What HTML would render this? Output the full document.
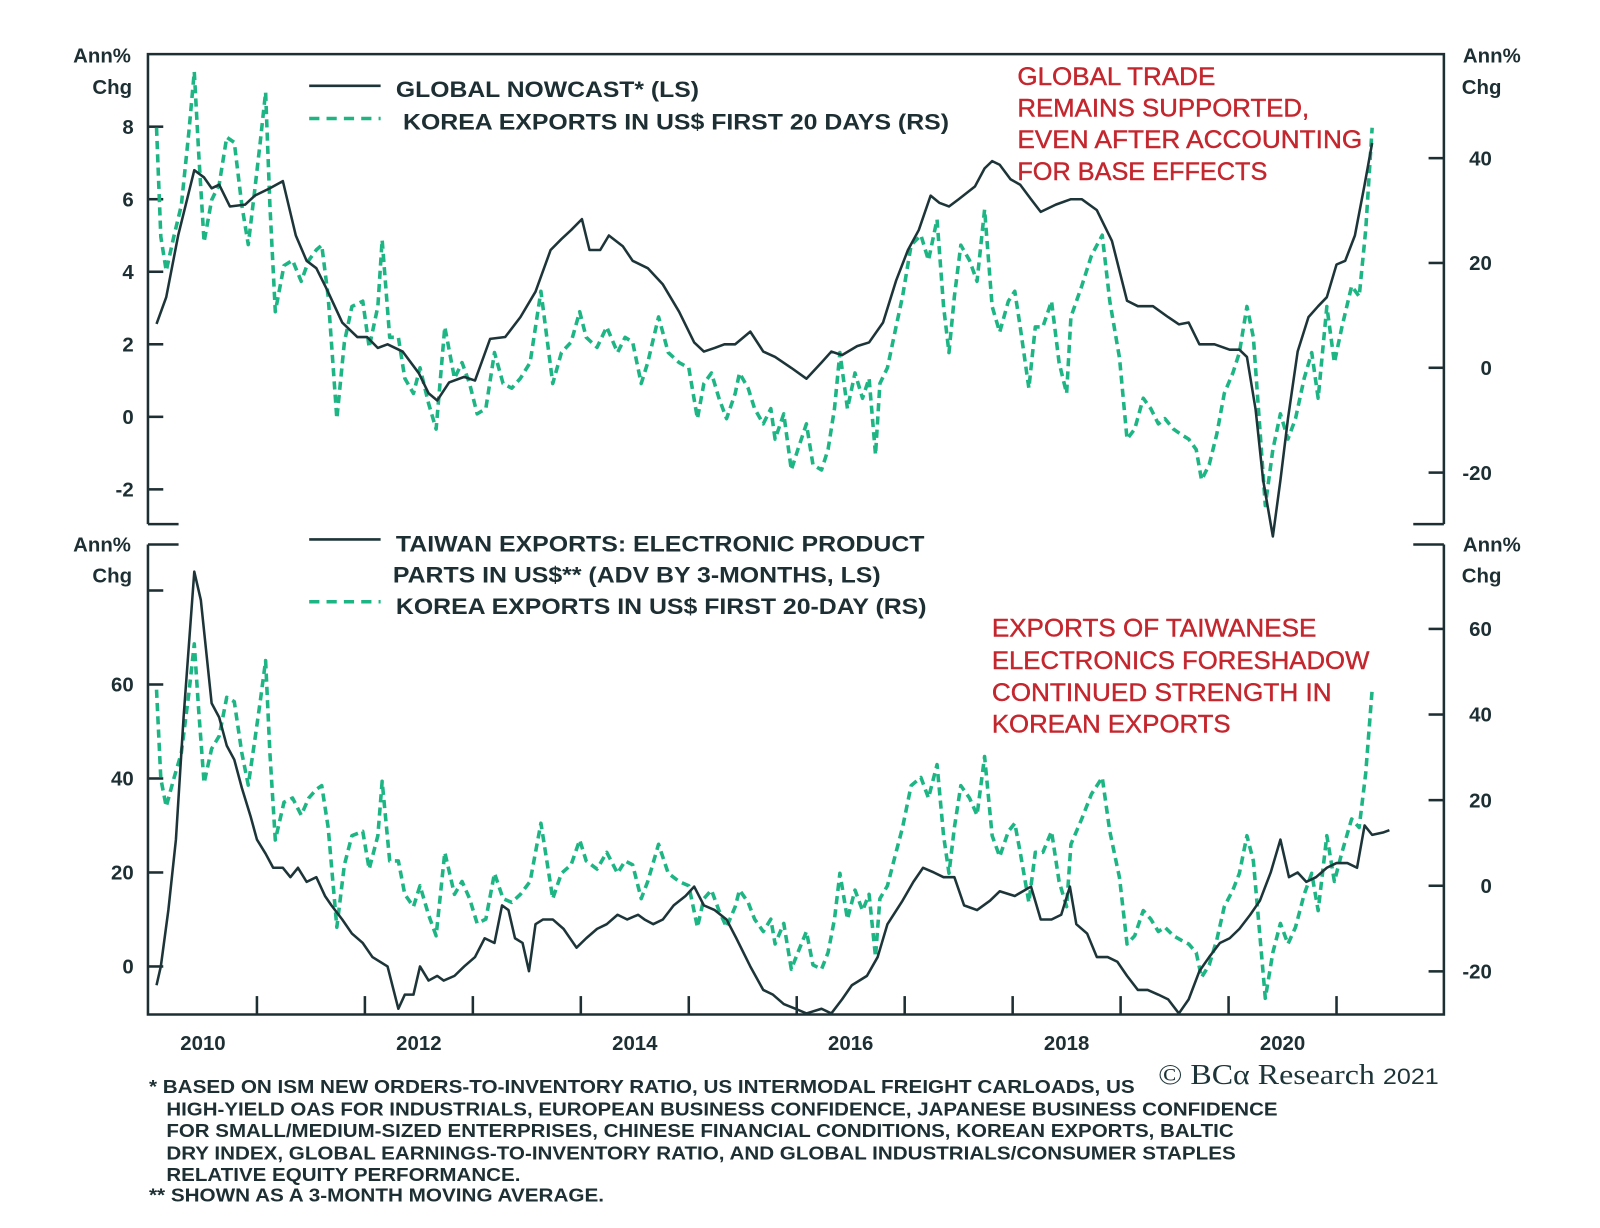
<!DOCTYPE html>
<html><head><meta charset="utf-8">
<style>
html,body{margin:0;padding:0;background:#fff;}
svg{display:block;}
text{font-family:"Liberation Sans",Arial,sans-serif;}
.tk{font-size:20px;font-weight:bold;fill:#1d2f33;}
.lg{font-size:22px;font-weight:bold;fill:#1d2f33;}
.an{font-size:24px;fill:#c4262e;stroke:#c4262e;stroke-width:0.4;}
.fn{font-size:18px;font-weight:bold;fill:#1d2f33;}
</style></head>
<body>
<svg id="chart" width="1600" height="1228" viewBox="0 0 1568 1202" preserveAspectRatio="none" xmlns="http://www.w3.org/2000/svg">
<g id="frame" stroke="#1d2f33" stroke-width="2.5" fill="none">
  <path d="M145,513 V53 H1415 V513" />
  <path d="M145,513 H175 M1385,513 H1415" />
  <path d="M145,533 H175 M1385,533 H1415 M145,533 V993 H1415 V533" />
</g>
<g id="ticks" stroke="#1d2f33" stroke-width="2.5"></g>
<g id="labels"></g>
<g id="series"></g>

<text class="tk" x="100" y="61" text-anchor="middle">Ann%</text>
<text class="tk" x="110" y="92" text-anchor="middle">Chg</text>
<text class="tk" x="1462" y="61" text-anchor="middle">Ann%</text>
<text class="tk" x="1452" y="92" text-anchor="middle">Chg</text>
<text class="tk" x="100" y="540" text-anchor="middle">Ann%</text>
<text class="tk" x="110" y="570" text-anchor="middle">Chg</text>
<text class="tk" x="1462" y="540" text-anchor="middle">Ann%</text>
<text class="tk" x="1452" y="570" text-anchor="middle">Chg</text>

<g>
  <line x1="303" y1="84" x2="373" y2="84" stroke="#1d3538" stroke-width="2.5"/>
  <text class="lg" x="388" y="95" textLength="297" lengthAdjust="spacingAndGlyphs">GLOBAL NOWCAST* (LS)</text>
  <line x1="303" y1="116" x2="373" y2="116" stroke="#1db584" stroke-width="3.5" stroke-dasharray="10 7"/>
  <text class="lg" x="395" y="127" textLength="535" lengthAdjust="spacingAndGlyphs">KOREA EXPORTS IN US$ FIRST 20 DAYS (RS)</text>
</g>
<g>
  <line x1="303" y1="528" x2="373" y2="528" stroke="#1d3538" stroke-width="2.5"/>
  <text class="lg" x="388" y="540" textLength="518" lengthAdjust="spacingAndGlyphs">TAIWAN EXPORTS: ELECTRONIC PRODUCT</text>
  <text class="lg" x="385" y="570" textLength="478" lengthAdjust="spacingAndGlyphs">PARTS IN US$** (ADV BY 3-MONTHS, LS)</text>
  <line x1="303" y1="589" x2="373" y2="589" stroke="#1db584" stroke-width="3.5" stroke-dasharray="10 7"/>
  <text class="lg" x="388" y="601" textLength="520" lengthAdjust="spacingAndGlyphs">KOREA EXPORTS IN US$ FIRST 20-DAY (RS)</text>
</g>
<g>
  <text class="an" x="997" y="83" textLength="194" lengthAdjust="spacingAndGlyphs">GLOBAL TRADE</text>
  <text class="an" x="997" y="114" textLength="286" lengthAdjust="spacingAndGlyphs">REMAINS SUPPORTED,</text>
  <text class="an" x="997" y="145" textLength="338" lengthAdjust="spacingAndGlyphs">EVEN AFTER ACCOUNTING</text>
  <text class="an" x="997" y="176" textLength="245" lengthAdjust="spacingAndGlyphs">FOR BASE EFFECTS</text>
</g>
<g>
  <text class="an" x="972" y="623" textLength="318" lengthAdjust="spacingAndGlyphs">EXPORTS OF TAIWANESE</text>
  <text class="an" x="972" y="655" textLength="370" lengthAdjust="spacingAndGlyphs">ELECTRONICS FORESHADOW</text>
  <text class="an" x="972" y="686" textLength="333" lengthAdjust="spacingAndGlyphs">CONTINUED STRENGTH IN</text>
  <text class="an" x="972" y="717" textLength="234" lengthAdjust="spacingAndGlyphs">KOREAN EXPORTS</text>
</g>
<g>
  <text x="1135" y="1061" textLength="275" lengthAdjust="spacingAndGlyphs" style="font-family:'Liberation Serif',serif;font-size:28px;fill:#1d3538">© BCα Research <tspan style="font-family:'Liberation Sans',sans-serif;font-size:22px">2021</tspan></text>
</g>
<g>
  <text class="fn" x="146" y="1070" textLength="966" lengthAdjust="spacingAndGlyphs">*  BASED ON ISM NEW ORDERS-TO-INVENTORY RATIO, US INTERMODAL FREIGHT CARLOADS, US</text>
  <text class="fn" x="163" y="1092" textLength="1089" lengthAdjust="spacingAndGlyphs">HIGH-YIELD OAS FOR INDUSTRIALS, EUROPEAN BUSINESS CONFIDENCE, JAPANESE BUSINESS CONFIDENCE</text>
  <text class="fn" x="163" y="1113" textLength="1046" lengthAdjust="spacingAndGlyphs">FOR SMALL/MEDIUM-SIZED ENTERPRISES, CHINESE FINANCIAL CONDITIONS, KOREAN EXPORTS, BALTIC</text>
  <text class="fn" x="163" y="1135" textLength="1048" lengthAdjust="spacingAndGlyphs">DRY INDEX, GLOBAL EARNINGS-TO-INVENTORY RATIO, AND GLOBAL INDUSTRIALS/CONSUMER STAPLES</text>
  <text class="fn" x="163" y="1156" textLength="347" lengthAdjust="spacingAndGlyphs">RELATIVE EQUITY PERFORMANCE.</text>
  <text class="fn" x="146" y="1176" textLength="446" lengthAdjust="spacingAndGlyphs">** SHOWN AS A 3-MONTH MOVING AVERAGE.</text>
</g>

<script>
// ---- data (dates as years since Jan 2010) ----
const nowcastDates = [.07,.16,.27,.42,.51,.58,.65,.75,.89,.98,1.12,1.24,1.36,1.46,1.55,1.65,1.79,1.93,2.02,2.12,2.21,2.35,2.50,2.59,2.67,2.78,2.92,3.02,3.16,3.30,3.44,3.58,3.72,3.82,3.91,4.01,4.08,4.18,4.26,4.39,4.48,4.62,4.76,4.91,5.05,5.14,5.24,5.33,5.43,5.57,5.69,5.80,5.95,6.09,6.23,6.32,6.42,6.56,6.67,6.80,6.92,7.03,7.13,7.24,7.32,7.41,7.50,7.65,7.74,7.81,7.88,7.98,8.07,8.17,8.26,8.40,8.54,8.64,8.78,8.92,9.06,9.16,9.30,9.44,9.54,9.63,9.73,9.87,10.01,10.10,10.17,10.25,10.32,10.41,10.48,10.55,10.64,10.74,10.83,10.91,11.00,11.08,11.17,11.26,11.33];
const nowcastValues = [2.56,3.3,5,6.8,6.6,6.3,6.4,5.8,5.85,6.1,6.3,6.5,5,4.3,4.1,3.5,2.6,2.2,2.2,1.9,2,1.8,1.2,0.65,0.45,0.95,1.1,1,2.15,2.2,2.75,3.45,4.6,4.9,5.15,5.45,4.6,4.6,5,4.7,4.3,4.1,3.65,2.9,2.05,1.8,1.9,2,2,2.35,1.8,1.65,1.35,1.05,1.5,1.8,1.7,1.95,2.05,2.6,3.75,4.6,5.15,6.1,5.9,5.8,6,6.35,6.85,7.05,6.95,6.55,6.4,6,5.65,5.85,6,6,5.7,4.85,3.2,3.05,3.05,2.75,2.55,2.6,2,2,1.85,1.85,1.65,0.2,-1.75,-3.3,-1.75,-0.05,1.8,2.75,3.05,3.3,4.2,4.3,5,6.4,7.55];

const koreaDates = [.07,.11,.16,.23,.30,.37,.42,.46,.51,.58,.65,.72,.79,.86,.92,.98,1.03,1.08,1.12,1.17,1.25,1.33,1.41,1.48,1.55,1.60,1.66,1.74,1.81,1.88,1.98,2.04,2.12,2.16,2.23,2.31,2.37,2.45,2.51,2.59,2.66,2.74,2.83,2.90,2.97,3.04,3.12,3.20,3.28,3.36,3.44,3.53,3.63,3.74,3.82,3.91,3.99,4.05,4.15,4.24,4.34,4.41,4.48,4.56,4.62,4.72,4.81,4.91,5.00,5.08,5.14,5.21,5.28,5.35,5.43,5.47,5.55,5.61,5.69,5.76,5.80,5.88,5.95,6.01,6.09,6.15,6.23,6.29,6.35,6.40,6.47,6.54,6.61,6.67,6.73,6.77,6.84,6.92,6.98,7.06,7.15,7.22,7.30,7.36,7.41,7.46,7.52,7.60,7.67,7.74,7.81,7.88,7.96,8.02,8.07,8.15,8.21,8.28,8.36,8.43,8.50,8.54,8.64,8.73,8.83,8.90,8.99,9.06,9.13,9.21,9.28,9.35,9.41,9.49,9.56,9.63,9.70,9.75,9.82,9.89,9.96,10.04,10.10,10.17,10.23,10.29,10.34,10.41,10.48,10.55,10.62,10.70,10.77,10.83,10.91,10.98,11.05,11.14,11.21,11.27,11.33];
const koreaValues = [45.8,25,18.5,25,31,45,56.5,41,24,32,35,44,43,31,23.5,34,43,52.6,31,10.7,19.5,20.5,16.5,20.5,22.5,23.4,13.6,-9.7,4.9,11.7,12.7,3.9,11.7,24.4,5.8,5.8,-2,-4.9,0,-6.8,-11.7,7.8,-2,1,-3,-8.8,-7.8,2.9,-3,-3.9,-2,1,14.6,-3,2.9,4.9,10.7,5.8,3.9,7.8,2.9,5.8,4.9,-3,1,9.7,2.9,1,0,-9.7,-3,-1,-5.8,-9.7,-4.9,-1,-3.9,-7.8,-10.7,-7.8,-13.6,-8.8,-19.5,-15.6,-10.7,-18.5,-19.5,-15.6,-7.8,2.9,-7.8,-1,-5.8,-2,-16.6,-3,0,7.8,13.6,23.4,25.3,20.5,28.3,11.7,2.9,13.6,23.4,20.5,16.5,30.2,11.7,6.8,12.7,14.6,7.8,-3.9,7.8,7.8,12.7,1,-4.9,9.7,15.6,21.4,25.3,12.7,1.9,-13.6,-11.7,-5.8,-7.8,-10.7,-9.7,-11.7,-12.7,-13.6,-15.6,-21.4,-18.5,-12.7,-4.9,-1,2.9,11.7,5.8,-11.7,-26.3,-15.6,-8.8,-13.6,-9.7,-2,2.9,-5.8,11.7,1,7.8,15.6,13.6,26.3,45.8];

const taiwanDates = [.07,.11,.18,.25,.32,.42,.48,.58,.65,.72,.79,.86,.94,1.00,1.08,1.15,1.24,1.31,1.38,1.46,1.55,1.63,1.69,1.79,1.88,1.98,2.07,2.21,2.31,2.37,2.45,2.51,2.59,2.67,2.73,2.83,2.92,3.02,3.11,3.20,3.27,3.33,3.39,3.46,3.52,3.58,3.65,3.74,3.84,3.96,4.05,4.15,4.24,4.34,4.43,4.53,4.59,4.67,4.76,4.86,4.97,5.05,5.14,5.24,5.35,5.44,5.57,5.69,5.78,5.88,5.99,6.09,6.23,6.32,6.42,6.51,6.65,6.75,6.84,6.98,7.08,7.17,7.27,7.36,7.46,7.55,7.67,7.79,7.88,8.02,8.17,8.26,8.36,8.45,8.53,8.59,8.69,8.78,8.88,8.97,9.06,9.16,9.25,9.35,9.44,9.54,9.63,9.73,9.82,9.92,10.01,10.10,10.20,10.29,10.39,10.48,10.56,10.64,10.72,10.81,10.91,11.00,11.10,11.19,11.26,11.33,11.43,11.49];
const taiwanValues = [-4,0,12,27,53,84,78,56,53,47,44,38,32,27,24,21,21,19,21,18,19,15,13,10,7,5,2,0,-9,-6,-6,0,-3,-2,-3,-2,0,2,6,5,13,12,6,5,-1,9,10,10,8,4,6,8,9,11,10,11,10,9,10,13,15,17,13,12,10,6,0,-5,-6,-8,-9,-10,-9,-10,-7,-4,-2,2,9,14,18,21,20,19,19,13,12,14,16,15,17,10,10,11,17,9,7,2,2,1,-2,-5,-5,-6,-7,-10,-7,-1,2,5,6,8,11,14,20,27,19,20,18,19,21,22,22,21,30,28,28.5,29];

const topLeftTicks = [8,6,4,2,0,-2];
const topRightTicks = [40,20,0,-20];
const botLeftTicks = [60,40,20,0];
const botRightTicks = [60,40,20,0,-20];
const yearLabels = [2010,2012,2014,2016,2018,2020];

// ---- axes ----
const X0 = 146, PXY = 105.8;
const xs = t => X0 + t * PXY;
const yTopL = v => 408 - 35.5 * v;
const yTopR = v => 360 - 5.13 * v;
const yBotL = v => 946 - 4.6 * v;
const yBotR = v => 867 - 4.19 * v;

const NS = "http://www.w3.org/2000/svg";
const tg = document.getElementById('ticks');
const lg = document.getElementById('labels');
const sg = document.getElementById('series');
function mk(tag, attrs, parent){ const e = document.createElementNS(NS, tag); for (const k in attrs) e.setAttribute(k, attrs[k]); parent.appendChild(e); return e; }

topLeftTicks.forEach(v => {
  const t = mk('line', {x1:145, x2:160, y1:yTopL(v), y2:yTopL(v)}, tg);
  
  
  const l = mk('text', {x:131, y:yTopL(v)+7, 'text-anchor':'end', class:'tk'}, lg);
  l.textContent = v;
  
  
});
topRightTicks.forEach(v => {
  const t = mk('line', {x1:1400, x2:1415, y1:yTopR(v), y2:yTopR(v)}, tg);
  
  
  const l = mk('text', {x:1462, y:yTopR(v)+7, 'text-anchor':'end', class:'tk'}, lg);
  l.textContent = v;
  
  
});
botLeftTicks.forEach(v => {
  const t = mk('line', {x1:145, x2:160, y1:yBotL(v), y2:yBotL(v)}, tg);
  
  
  const l = mk('text', {x:131, y:yBotL(v)+7, 'text-anchor':'end', class:'tk'}, lg);
  l.textContent = v;
  
  
});
[80].forEach(v => { const t = mk('line', {x1:145, x2:160, y1:yBotL(v), y2:yBotL(v)}, tg);   });
botRightTicks.forEach(v => {
  const t = mk('line', {x1:1400, x2:1415, y1:yBotR(v), y2:yBotR(v)}, tg);
  
  
  const l = mk('text', {x:1462, y:yBotR(v)+7, 'text-anchor':'end', class:'tk'}, lg);
  l.textContent = v;
  
  
});
for (let yr = 1; yr <= 11; yr++) {
  const t = mk('line', {x1:xs(yr), x2:xs(yr), y1:993, y2:975}, tg);
  
  
}
yearLabels.forEach(y => {
  const l = mk('text', {x:xs(y-2010+0.5), y:1028, 'text-anchor':'middle', class:'tk'}, lg);
  l.textContent = y;
  
  
});

function path(dates, vals, yf){ return dates.map((d,i)=>(i?'L':'M')+xs(d).toFixed(1)+','+yf(vals[i]).toFixed(1)).join(''); }
const solid = {fill:'none', stroke:'#1d3538', 'stroke-width':2.5, 'stroke-linejoin':'round'};
const dash = {fill:'none', stroke:'#1db584', 'stroke-width':3.5, 'stroke-dasharray':'8 5', 'stroke-linejoin':'round'};

const k1 = mk('path', Object.assign({d:path(koreaDates, koreaValues, yTopR)}, dash), sg);


const n1 = mk('path', Object.assign({d:path(nowcastDates, nowcastValues, yTopL)}, solid), sg);


const k2 = mk('path', Object.assign({d:path(koreaDates, koreaValues, yBotR)}, dash), sg);


const t2 = mk('path', Object.assign({d:path(taiwanDates, taiwanValues, yBotL)}, solid), sg);


</script>
</svg>
</body></html>
